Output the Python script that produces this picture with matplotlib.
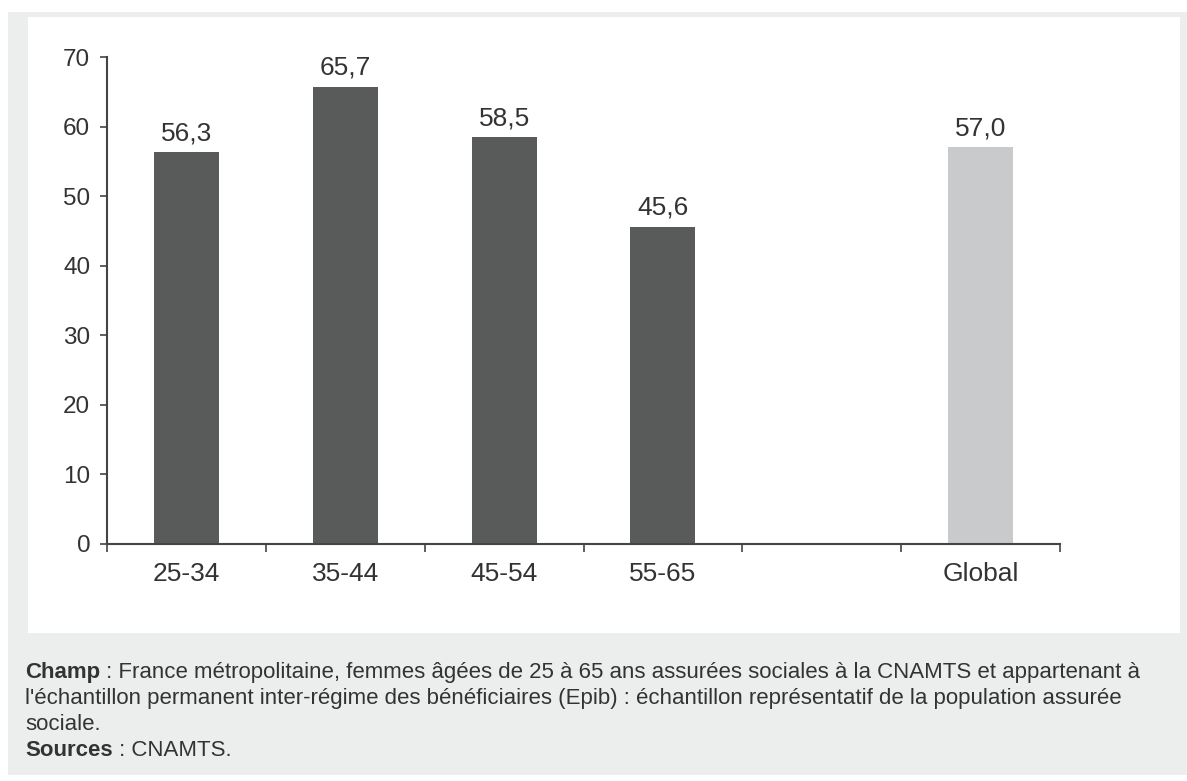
import matplotlib
matplotlib.use('Agg')
import matplotlib.pyplot as plt
from matplotlib.patches import Rectangle

# Données
categories = ['25-34', '35-44', '45-54', '55-65', '', 'Global']
valeurs = [56.3, 65.7, 58.5, 45.6, None, 57.0]
etiquettes = ['56,3', '65,7', '58,5', '45,6', '', '57,0']
couleurs = ['#595b5b', '#595b5b', '#595b5b', '#595b5b', '#595b5b', '#c8cacb']
yticks = [0, 10, 20, 30, 40, 50, 60, 70]

plt.rcParams['font.family'] = ['Liberation Sans Narrow', 'Liberation Sans', 'DejaVu Sans']
texte = '#333333'

fig = plt.figure(figsize=(11.87, 7.81), dpi=100)
fig.patch.set_facecolor('white')

# fond gris + panneau blanc
fig.patches.append(Rectangle((8 / 1187, 6 / 781), 1 - 8 / 1187, 1 - 18 / 781,
                             transform=fig.transFigure, facecolor='#eceeee',
                             edgecolor='none', zorder=-10))
fig.patches.append(Rectangle((28 / 1187, 1 - 633 / 781), 1152 / 1187, 616 / 781,
                             transform=fig.transFigure, facecolor='white',
                             edgecolor='none', zorder=-9))

ax = fig.add_axes([107 / 1187, 1 - 544 / 781, 953 / 1187, 487 / 781])
ax.set_facecolor('none')

positions = [i + 0.5 for i in range(len(categories))]
for x, v, lab, c in zip(positions, valeurs, etiquettes, couleurs):
    if v is None:
        continue
    ax.bar(x, v, width=0.41, color=c, edgecolor='none')
    ax.text(x, v + 1.0, lab, ha='center', va='bottom', fontsize=19, color=texte)

ax.set_xlim(0, len(categories))
ax.set_ylim(0, 70)
ax.set_yticks(yticks)
ax.set_yticklabels([str(t) for t in yticks], fontsize=17.5, color=texte)
ax.set_xticks(range(len(categories) + 1))
ax.set_xticklabels([])
ax.set_xticks(positions, minor=True)
ax.set_xticklabels(categories, minor=True, fontsize=19, color=texte)
ax.tick_params(axis='x', which='minor', length=0, pad=13)
ax.tick_params(axis='x', which='major', length=6, width=1.2, color='#444444', direction='out')
ax.tick_params(axis='y', length=5, width=1.2, color='#444444', pad=7)

for s in ['top', 'right']:
    ax.spines[s].set_visible(False)
for s in ['left', 'bottom']:
    ax.spines[s].set_color('#444444')
    ax.spines[s].set_linewidth(1.5)

# notes sous le graphique
x0 = 25 / 1187
lignes = [
    (678, [('Champ', 'bold'), (' : France métropolitaine, femmes âgées de 25 à 65 ans assurées sociales à la CNAMTS et appartenant à', 'normal')]),
    (704, [("l'échantillon permanent inter-régime des bénéficiaires (Epib) : échantillon représentatif de la population assurée", 'normal')]),
    (730, [('sociale.', 'normal')]),
    (756, [('Sources', 'bold'), (' : CNAMTS.', 'normal')]),
]
r = fig.canvas.get_renderer()
for y, morceaux in lignes:
    x = x0
    for chaine, poids in morceaux:
        t = fig.text(x, 1 - y / 781, chaine, fontsize=16, fontweight=poids,
                     color=texte, va='baseline')
        bb = t.get_window_extent(renderer=r)
        x = bb.x1 / fig.bbox.width

fig.savefig('out.png', dpi=100)
